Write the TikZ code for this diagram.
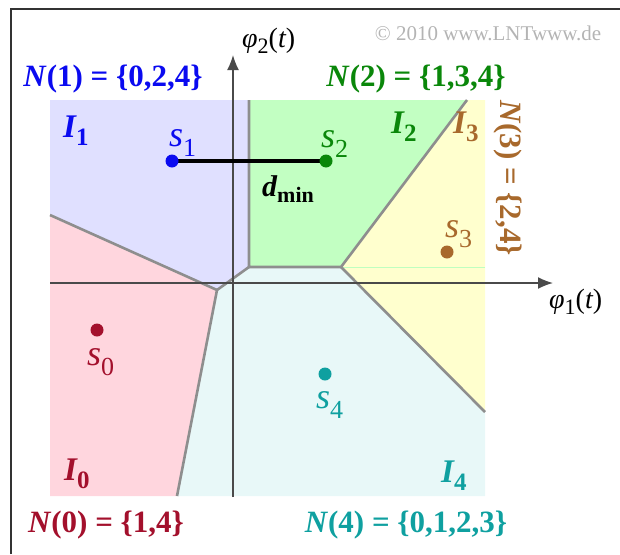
\documentclass[tikz,border=0pt]{standalone}
\usepackage{fontspec}
\setmainfont{Liberation Serif}
\usetikzlibrary{arrows.meta}
\definecolor{cblue}{HTML}{0A0AF0}
\definecolor{cgreen}{HTML}{0A870A}
\definecolor{cbrown}{HTML}{A8692C}
\definecolor{cred}{HTML}{A3102C}
\definecolor{cteal}{HTML}{0FA0A0}
\definecolor{fIzero}{HTML}{FFD6DE}
\definecolor{fIone}{HTML}{E0E0FF}
\definecolor{fItwo}{HTML}{C2FFC2}
\definecolor{fIthree}{HTML}{FFFFCE}
\definecolor{fIfour}{HTML}{E8F8F8}
\definecolor{bnd}{HTML}{8E8E8E}
\definecolor{axcol}{HTML}{4A4A4A}
\definecolor{cpy}{HTML}{B4B4B4}
% subscript: size, drop, text
\newcommand{\lsub}[3]{\raisebox{-#2}{\fontsize{#1}{#1}\selectfont\upshape #3}}
\tikzset{
  slab/.style={inner sep=0pt, anchor=base west, font=\fontsize{36}{36}\selectfont\itshape},
  Ilab/.style={inner sep=0pt, anchor=base west, font=\fontsize{33}{33}\selectfont\bfseries\itshape},
  Nlab/.style={inner sep=0pt, anchor=base, font=\fontsize{31}{31}\selectfont\bfseries},
  axlab/.style={inner sep=0pt, anchor=base west, font=\fontsize{28}{28}\selectfont\itshape},
  bline/.style={draw=bnd, line width=2.6pt, line join=round},
  axis/.style={draw=axcol, line width=1.6pt, -{Latex[length=15pt,width=12pt]}},
  dot/.style={radius=6.5pt}
}
\begin{document}
\begin{tikzpicture}[x=1pt,y=-1pt]
\useasboundingbox (0,0) rectangle (620,554);
% frame (only top and left edges visible)
\draw[black!80, line width=1.4pt] (11,554) -- (11,9) -- (620,9);
% vertices of the decision regions
\coordinate (TL) at (50,100);
\coordinate (TM) at (249,100);
\coordinate (TR) at (467,100);
\coordinate (TE) at (485,100);
\coordinate (LE) at (50,215);
\coordinate (A) at (217,290);
\coordinate (B) at (249,267);
\coordinate (C) at (341,267);
\coordinate (RE) at (485,412);
\coordinate (BR) at (485,496);
\coordinate (BM) at (177,496);
\coordinate (BL) at (50,496);
% regions
\fill[fIone] (TL) -- (TM) -- (B) -- (A) -- (LE) -- cycle;
\fill[fItwo] (TM) -- (TR) -- (C) -- (B) -- cycle;
\fill[fIthree] (TR) -- (TE) -- (RE) -- (C) -- cycle;
\fill[fIfour] (B) -- (C) -- (RE) -- (BR) -- (BM) -- (A) -- cycle;
\fill[fIzero] (LE) -- (A) -- (BM) -- (BL) -- cycle;
\draw[green!25, line width=0.8pt] (C) -- (485,267);
% boundaries
\draw[bline] (TM) -- (B) -- (C) -- (TR);
\draw[bline] (C) -- (RE);
\draw[bline] (LE) -- (A) -- (BM);
\draw[bline] (A) -- (B);
% axes
\coordinate (xo) at (50,283);
\coordinate (xe) at (553,283);
\coordinate (yo) at (233,497);
\coordinate (ye) at (233,55);
\draw[axis] (xo) -- (xe);
\draw[axis] (yo) -- (ye);
\node[axlab] (phi1) at (549,308) {φ\lsub{22}{6pt}{1}\upshape(\itshape t\upshape)};
\node[axlab] (phi2) at (242,47) {φ\lsub{22}{6pt}{2}\upshape(\itshape t\upshape)};
% signal points
\coordinate (s0) at (97,330);
\coordinate (s1) at (172,161);
\coordinate (s2) at (326,161);
\coordinate (s3) at (447,252);
\coordinate (s4) at (325,374);
\draw[black, line width=3.6pt] (s1) -- (s2);
\fill[cred] (s0) circle[dot];
\fill[cblue] (s1) circle[dot];
\fill[cgreen] (s2) circle[dot];
\fill[cbrown] (s3) circle[dot];
\fill[cteal] (s4) circle[dot];
\node[inner sep=0pt, anchor=base west, font=\fontsize{30}{30}\selectfont\bfseries\itshape] (dmin) at (262,196) {d\lsub{22}{6pt}{min}};
% point labels
\node[slab, cred] (ls0) at (87,365) {s\lsub{26}{10pt}{0}};
\node[slab, cblue] (ls1) at (169,146) {s\lsub{26}{10pt}{1}};
\node[slab, cgreen] (ls2) at (321,147) {s\lsub{26}{10pt}{2}};
\node[slab, cbrown] (ls3) at (445,237) {s\lsub{26}{10pt}{3}};
\node[slab, cteal] (ls4) at (316,408) {s\lsub{26}{10pt}{4}};
% region labels
\node[Ilab, cred] (I0) at (64,480) {I\lsub{25}{8pt}{0}};
\node[Ilab, cblue] (I1) at (63,137) {I\lsub{25}{8pt}{1}};
\node[Ilab, cgreen] (I2) at (391,133) {I\lsub{25}{8pt}{2}};
\node[Ilab, cbrown] (I3) at (453,133) {I\lsub{25}{8pt}{3}};
\node[Ilab, cteal] (I4) at (441,482) {I\lsub{25}{8pt}{4}};
% neighbour sets
\node[Nlab, cblue] (N1) at (113,86) {\textit{N}(1) = \{0,2,4\}};
\node[Nlab, cgreen] (N2) at (416,86) {\textit{N}(2) = \{1,3,4\}};
\node[Nlab, cred] (N0) at (106,532) {\textit{N}(0) = \{1,4\}};
\node[Nlab, cteal] (N4) at (406,532) {\textit{N}(4) = \{0,1,2,3\}};
\node[Nlab, cbrown, anchor=center, rotate=-90] (N3) at (508,178) {\textit{N}(3) = \{2,4\}};
% copyright
\node[inner sep=0pt, cpy, font=\fontsize{21}{21}\selectfont] (cp) at (488,33) {© 2010 www.LNTwww.de};
\end{tikzpicture}
\end{document}
